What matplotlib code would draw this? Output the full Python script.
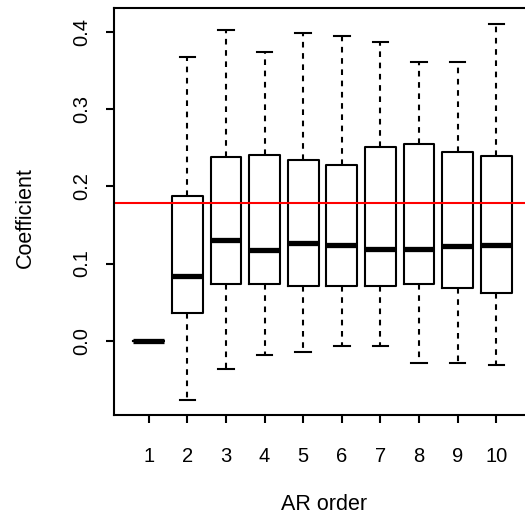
import matplotlib
matplotlib.use("Agg")
import matplotlib.pyplot as plt

plt.rcParams['font.family'] = ['Liberation Sans', 'DejaVu Sans']

orders = [1, 2, 3, 4, 5, 6, 7, 8, 9, 10]
whislo = [0.0, -0.077, -0.036, -0.019, -0.014, -0.007, -0.0065, -0.0285, -0.029, -0.032]
q1     = [0.0, 0.036, 0.074, 0.073, 0.0705, 0.0705, 0.071, 0.074, 0.068, 0.062]
med    = [0.0, 0.084, 0.130, 0.118, 0.126, 0.124, 0.119, 0.119, 0.123, 0.124]
q3     = [0.0, 0.187, 0.2376, 0.240, 0.2337, 0.227, 0.251, 0.255, 0.245, 0.2397]
whishi = [0.0, 0.367, 0.402, 0.374, 0.399, 0.395, 0.387, 0.361, 0.361, 0.410]
ref_value = 0.179

fig = plt.figure(figsize=(5.25, 5.18), dpi=100)
ax = fig.add_axes([114/525, 1 - 415/518, (531-114)/525, (415-8.3)/518])

stats = []
for i in range(len(orders)):
    stats.append(dict(med=med[i], q1=q1[i], q3=q3[i], whislo=whislo[i],
                      whishi=whishi[i], fliers=[], label=str(orders[i])))

ax.bxp(stats, positions=orders, widths=0.8, showfliers=False,
       boxprops=dict(color='black', linewidth=1.5),
       medianprops=dict(color='black', linewidth=3.8, solid_capstyle='butt'),
       whiskerprops=dict(color='black', linewidth=1.5, linestyle=(0, (2.7, 2.7))),
       capprops=dict(color='black', linewidth=1.5),
       capwidths=0.4)

ax.axhline(ref_value, color='red', linewidth=1.5)

ax.set_xlim(0.1, 10.9)
ax.set_ylim(-0.0962, 0.4306)
ax.set_yticks([0.0, 0.1, 0.2, 0.3, 0.4])
ax.set_yticklabels(['0.0', '0.1', '0.2', '0.3', '0.4'], rotation=90, va='center')
ax.set_xticks(orders)
ax.set_xticklabels([str(o) for o in orders])
ax.tick_params(axis='both', direction='out', length=6, width=1.5, labelsize=14.5)
ax.tick_params(axis='x', pad=17)
ax.tick_params(axis='y', pad=10.5)
for s in ax.spines.values():
    s.set_linewidth(1.5)

ax.set_xlabel('AR order', fontsize=15.5, va='center')
ax.set_ylabel('Coefficient', fontsize=15.5, va='center')
ax.xaxis.set_label_coords((324.5 - 114) / 417, (415 - 505) / 406.7)
ax.yaxis.set_label_coords((25.5 - 114) / 417, (415 - 218) / 406.7)

fig.savefig('out.png', dpi=100)
